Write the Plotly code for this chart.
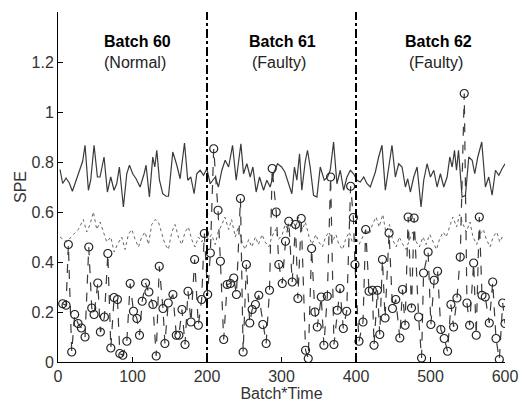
import plotly.graph_objects as go

# ---- SPE values (dashed line with circles) ----
spe_x = [6.3, 10.8, 13.9, 18.4, 22.4, 26.9, 31.4, 36.3, 41.3, 45.3, 48.4, 53.4, 56.9, 62.3, 66.9,
         70.9, 75.3, 79.8, 83.0, 87.0, 92.4, 96.9, 101.3, 105.9, 109.4, 113.0, 117.5, 122.0, 127.4,
         131.8, 135.9, 140.9, 143.5, 148.0, 154.3, 158.8, 162.3, 166.4, 170.5, 174.5, 178.5, 183.4,
         188.4, 192.8, 196.4, 200.9,
         204.5, 209.0, 214.8, 218.0, 222.4, 227.0, 231.4, 235.9, 239.5, 244.9, 248.5, 252.9, 257.4,
         260.6, 265.0, 269.5, 274.9, 279.4, 283.9, 287.5, 292.9, 296.4, 301.0, 305.4, 309.8, 314.4,
         318.8, 322.0, 326.5, 332.3, 335.9, 340.4, 344.8, 348.0, 353.4, 356.9, 361.5, 365.9, 370.4,
         374.9, 378.5, 383.0, 387.5, 392.8, 396.5, 398.6,
         404.0, 409.4, 413.0, 417.5, 422.0, 424.2, 428.8, 431.9, 435.5, 439.0, 444.4, 449.0, 453.4,
         458.8, 462.4, 465.9, 470.0, 474.5, 478.0, 484.0, 488.0, 490.7, 496.8, 500.5, 504.9, 509.5,
         513.9, 518.4, 522.9, 527.4, 531.0, 535.5, 539.9, 545.3, 548.9, 552.5, 557.9, 561.4, 565.5,
         569.1, 573.5, 578.9, 583.5, 587.9, 592.4, 596.9, 600.0]
spe_y = [0.233, 0.227, 0.47, 0.04, 0.19, 0.154, 0.136, 0.10, 0.46, 0.216, 0.19, 0.316, 0.12, 0.18, 0.434,
         0.056, 0.258, 0.25, 0.034, 0.027, 0.083, 0.314, 0.203, 0.174, 0.107, 0.243, 0.316, 0.28, 0.23,
         0.024, 0.383, 0.214, 0.074, 0.236, 0.27, 0.107, 0.107, 0.21, 0.07, 0.283, 0.16, 0.41,
         0.147, 0.25, 0.514, 0.27,
         0.436, 0.853, 0.607, 0.403, 0.09, 0.31, 0.314, 0.336, 0.27, 0.654, 0.04, 0.39, 0.156,
         0.21, 0.23, 0.267, 0.15, 0.074, 0.287, 0.774, 0.60, 0.39, 0.314, 0.483, 0.563, 0.32,
         0.55, 0.254, 0.574, 0.047, 0.014, 0.454, 0.20, 0.14, 0.26, 0.067, 0.263, 0.74, 0.07,
         0.207, 0.294, 0.134, 0.203, 0.703, 0.578, 0.39,
         0.083, 0.16, 0.53, 0.283, 0.287, 0.067, 0.287, 0.11, 0.41, 0.176, 0.516, 0.214, 0.25,
         0.096, 0.29, 0.147, 0.58, 0.216, 0.576, 0.18, 0.016, 0.356, 0.44, 0.15, 0.327, 0.363,
         0.13, 0.094, 0.043, 0.23, 0.14, 0.256, 0.42, 1.074, 0.236, 0.147, 0.396, 0.107, 0.58,
         0.267, 0.26, 0.156, 0.32, 0.094, 0.01, 0.236, 0.154]

# ---- 99% limit (solid) ----
lim99_x = [2.7, 6.3, 10.8, 15.2, 19.3, 25.1, 29.6, 33.1, 36.3, 40.8, 43.9, 48.4, 52.9, 56.4, 61.8,
           66.3, 70.8, 75.2, 78.8, 82.4, 87.8, 92.3, 95.9, 100.3, 104.8, 110.2, 115.6, 118.2, 122.7,
           127.2, 129.9, 132.6, 136.2, 140.6, 145.1, 148.3, 154.1, 159.5, 163.9, 169.8, 174.2, 178.3,
           182.7, 186.3, 190.8, 195.3, 199.8,
           204.3, 211.0, 215.4, 219.9, 224.4, 229.0, 234.3, 239.2, 242.3, 245.5, 249.0, 253.5, 258.0,
           261.6, 266.0, 270.5, 275.9, 280.3, 284.8, 289.3, 294.7, 300.1, 304.5, 309.0, 313.9, 317.4,
           320.6, 324.2, 327.3, 331.8, 334.9, 338.5, 343.0, 347.5, 352.0, 357.4, 361.9, 365.4, 369.9,
           374.4, 378.9, 383.4, 387.9, 392.4, 396.8, 401.3, 405.8, 410.3, 414.8,
           419.2, 426.0, 430.4, 434.9, 439.4, 443.9, 448.3, 452.8, 457.3, 461.8, 466.3, 469.4, 473.0,
           477.5, 482.0, 487.3, 490.9, 495.4, 499.9, 504.4, 508.8, 513.3, 517.8, 522.3, 525.9, 529.1,
           532.2, 534.9, 537.6, 542.4, 546.9, 551.4, 555.9, 559.4, 563.5, 568.8, 573.7, 578.2, 582.7,
           587.2, 591.7, 596.1, 600.0]
lim99_y = [0.77, 0.714, 0.736, 0.716, 0.683, 0.733, 0.78, 0.803, 0.867, 0.687, 0.727, 0.867, 0.74, 0.74, 0.82,
           0.68, 0.74, 0.687, 0.713, 0.78, 0.62, 0.753, 0.787, 0.753, 0.733, 0.70, 0.753, 0.787, 0.66,
           0.82, 0.78, 0.847, 0.727, 0.673, 0.663, 0.663, 0.84, 0.787, 0.733, 0.876, 0.727, 0.74,
           0.673, 0.753, 0.767, 0.747, 0.773,
           0.713, 0.74, 0.70, 0.767, 0.807, 0.78, 0.867, 0.727, 0.807, 0.873, 0.753, 0.793, 0.74,
           0.78, 0.68, 0.74, 0.687, 0.727, 0.70, 0.753, 0.793, 0.78, 0.76, 0.72, 0.673, 0.78,
           0.727, 0.833, 0.687, 0.80, 0.847, 0.78, 0.667, 0.66, 0.78, 0.727, 0.74, 0.767, 0.88,
           0.713, 0.767, 0.687, 0.74, 0.767, 0.753, 0.727, 0.72, 0.74, 0.713,
           0.70, 0.76, 0.82, 0.867, 0.687, 0.78, 0.867, 0.74, 0.793, 0.78, 0.70, 0.733, 0.68,
           0.74, 0.78, 0.62, 0.727, 0.793, 0.74, 0.767, 0.70, 0.753, 0.70, 0.74, 0.82, 0.78,
           0.847, 0.767, 0.847, 0.66, 0.667, 0.82, 0.807, 0.753, 0.82, 0.88, 0.70, 0.74, 0.667,
           0.767, 0.747, 0.773, 0.793]

# ---- 95% limit (dotted) ----
lim95_x = [2.7, 11.6, 20.6, 27.3, 34.0, 38.5, 43.0, 47.5, 52.0, 56.5, 61.0, 65.4, 70.8, 75.3, 79.8,
           85.6, 90.0, 94.5, 99.0, 103.5, 108.0, 112.4, 116.9, 121.4, 125.8, 130.3, 134.8, 139.3,
           143.7, 148.2, 152.7, 157.1, 161.6, 166.1, 170.6, 175.0, 179.5, 184.0, 188.5, 192.9, 197.4,
           202, 206, 211, 215, 220, 224, 229, 233, 238, 242, 247, 251, 256, 260, 265, 269, 274, 278,
           283, 287, 292, 296, 301, 305, 310, 314, 319, 323, 328, 332, 337, 341, 346, 350, 355, 359,
           364, 368, 373, 377, 382, 386, 391, 395, 400,
           404, 409, 413, 418, 422, 427, 431, 436, 440, 445, 449, 454, 458, 463, 467, 472, 476, 481,
           485, 490, 494, 499, 503, 508, 512, 517, 521, 526, 530, 535, 539, 544, 548, 553, 557, 562,
           566, 571, 575, 580, 584, 589, 593, 598]
lim95_y = [0.50, 0.48, 0.51, 0.53, 0.57, 0.52, 0.55, 0.60, 0.53, 0.56, 0.52, 0.48, 0.50, 0.44, 0.47,
           0.50, 0.45, 0.51, 0.53, 0.49, 0.46, 0.50, 0.52, 0.47, 0.55, 0.57, 0.56, 0.51,
           0.47, 0.45, 0.52, 0.55, 0.50, 0.47, 0.52, 0.54, 0.49, 0.46, 0.50, 0.48, 0.51,
           0.49, 0.51, 0.47, 0.52, 0.55, 0.58, 0.53, 0.57, 0.50, 0.54, 0.48, 0.45, 0.49, 0.46, 0.50,
           0.47, 0.51, 0.48, 0.46, 0.50, 0.53, 0.49, 0.51, 0.55, 0.52, 0.57, 0.54, 0.58, 0.53, 0.56,
           0.50, 0.47, 0.51, 0.48, 0.46, 0.50, 0.52, 0.48, 0.51, 0.47, 0.45, 0.49, 0.52, 0.48, 0.50,
           0.47, 0.50, 0.53, 0.51, 0.55, 0.58, 0.54, 0.59, 0.52, 0.55, 0.49, 0.46, 0.50, 0.47, 0.45,
           0.49, 0.52, 0.48, 0.46, 0.50, 0.47, 0.51, 0.48, 0.45, 0.49, 0.52, 0.50, 0.55, 0.58, 0.54,
           0.59, 0.55, 0.52, 0.56, 0.50, 0.47, 0.51, 0.53, 0.49, 0.46, 0.50, 0.52, 0.48, 0.51]

batch_bounds = [200, 400]
batch_titles = ["Batch 60", "Batch 61", "Batch 62"]
batch_states = ["(Normal)", "(Faulty)", "(Faulty)"]
batch_label_x = [107, 301, 511]
x_ticks = [0, 100, 200, 300, 400, 500, 600]
y_ticks = [0, 0.2, 0.4, 0.6, 0.8, 1.0, 1.2]
y_tick_text = ["0", "0.2", "0.4", "0.6", "0.8", "1", "1.2"]

FONT = "Liberation Sans, Arial, sans-serif"

fig = go.Figure()
fig.add_trace(go.Scatter(x=lim95_x, y=lim95_y, mode="lines",
                         line=dict(color="#666666", width=1, dash="dot"), hoverinfo="skip"))
fig.add_trace(go.Scatter(x=lim99_x, y=lim99_y, mode="lines",
                         line=dict(color="#3a3a3a", width=1.2), hoverinfo="skip"))
fig.add_trace(go.Scatter(x=spe_x, y=spe_y, mode="lines+markers",
                         line=dict(color="#3a3a3a", width=1.2, dash="dash"),
                         marker=dict(symbol="circle-open", size=8, color="#222222",
                                     line=dict(width=1.2, color="#222222"))))

for b in batch_bounds:
    fig.add_shape(type="line", xref="x", yref="y", x0=b, x1=b, y0=0, y1=1.4,
                  line=dict(color="black", width=2, dash="dashdot"))

for tx, t1, t2 in zip(batch_label_x, batch_titles, batch_states):
    fig.add_annotation(x=tx, y=1.283, text="<b>" + t1 + "</b>", showarrow=False,
                       font=dict(family=FONT, size=16, color="black"))
    fig.add_annotation(x=tx - 4, y=1.198, text=t2, showarrow=False,
                       font=dict(family=FONT, size=16, color="#222222"))

fig.update_layout(
    width=520, height=403,
    margin=dict(l=58, r=15, t=12, b=41),
    paper_bgcolor="white", plot_bgcolor="white",
    showlegend=False,
    font=dict(family=FONT, size=16, color="#333333"),
)
fig.update_xaxes(range=[0, 600], tickvals=x_ticks, ticks="inside", ticklen=5, tickcolor="black",
                 showline=True, linecolor="black", linewidth=1, showgrid=False, zeroline=False,
                 automargin=False,
                 tickfont=dict(size=16, color="#333333"),
                 title=dict(text="Batch*Time", standoff=2, font=dict(size=16, color="#333333")))
fig.update_yaxes(range=[0, 1.4], tickvals=y_ticks, ticktext=y_tick_text, ticks="inside", ticklen=5,
                 tickcolor="black", showline=True, linecolor="black", linewidth=1,
                 showgrid=False, zeroline=False, automargin=False,
                 tickfont=dict(size=16, color="#333333"),
                 title=dict(text="SPE", standoff=0, font=dict(size=16, color="#333333")))

fig.write_html("out.html", config={"displayModeBar": False},
               post_script="document.body.style.margin='0';document.body.style.padding='0';")
